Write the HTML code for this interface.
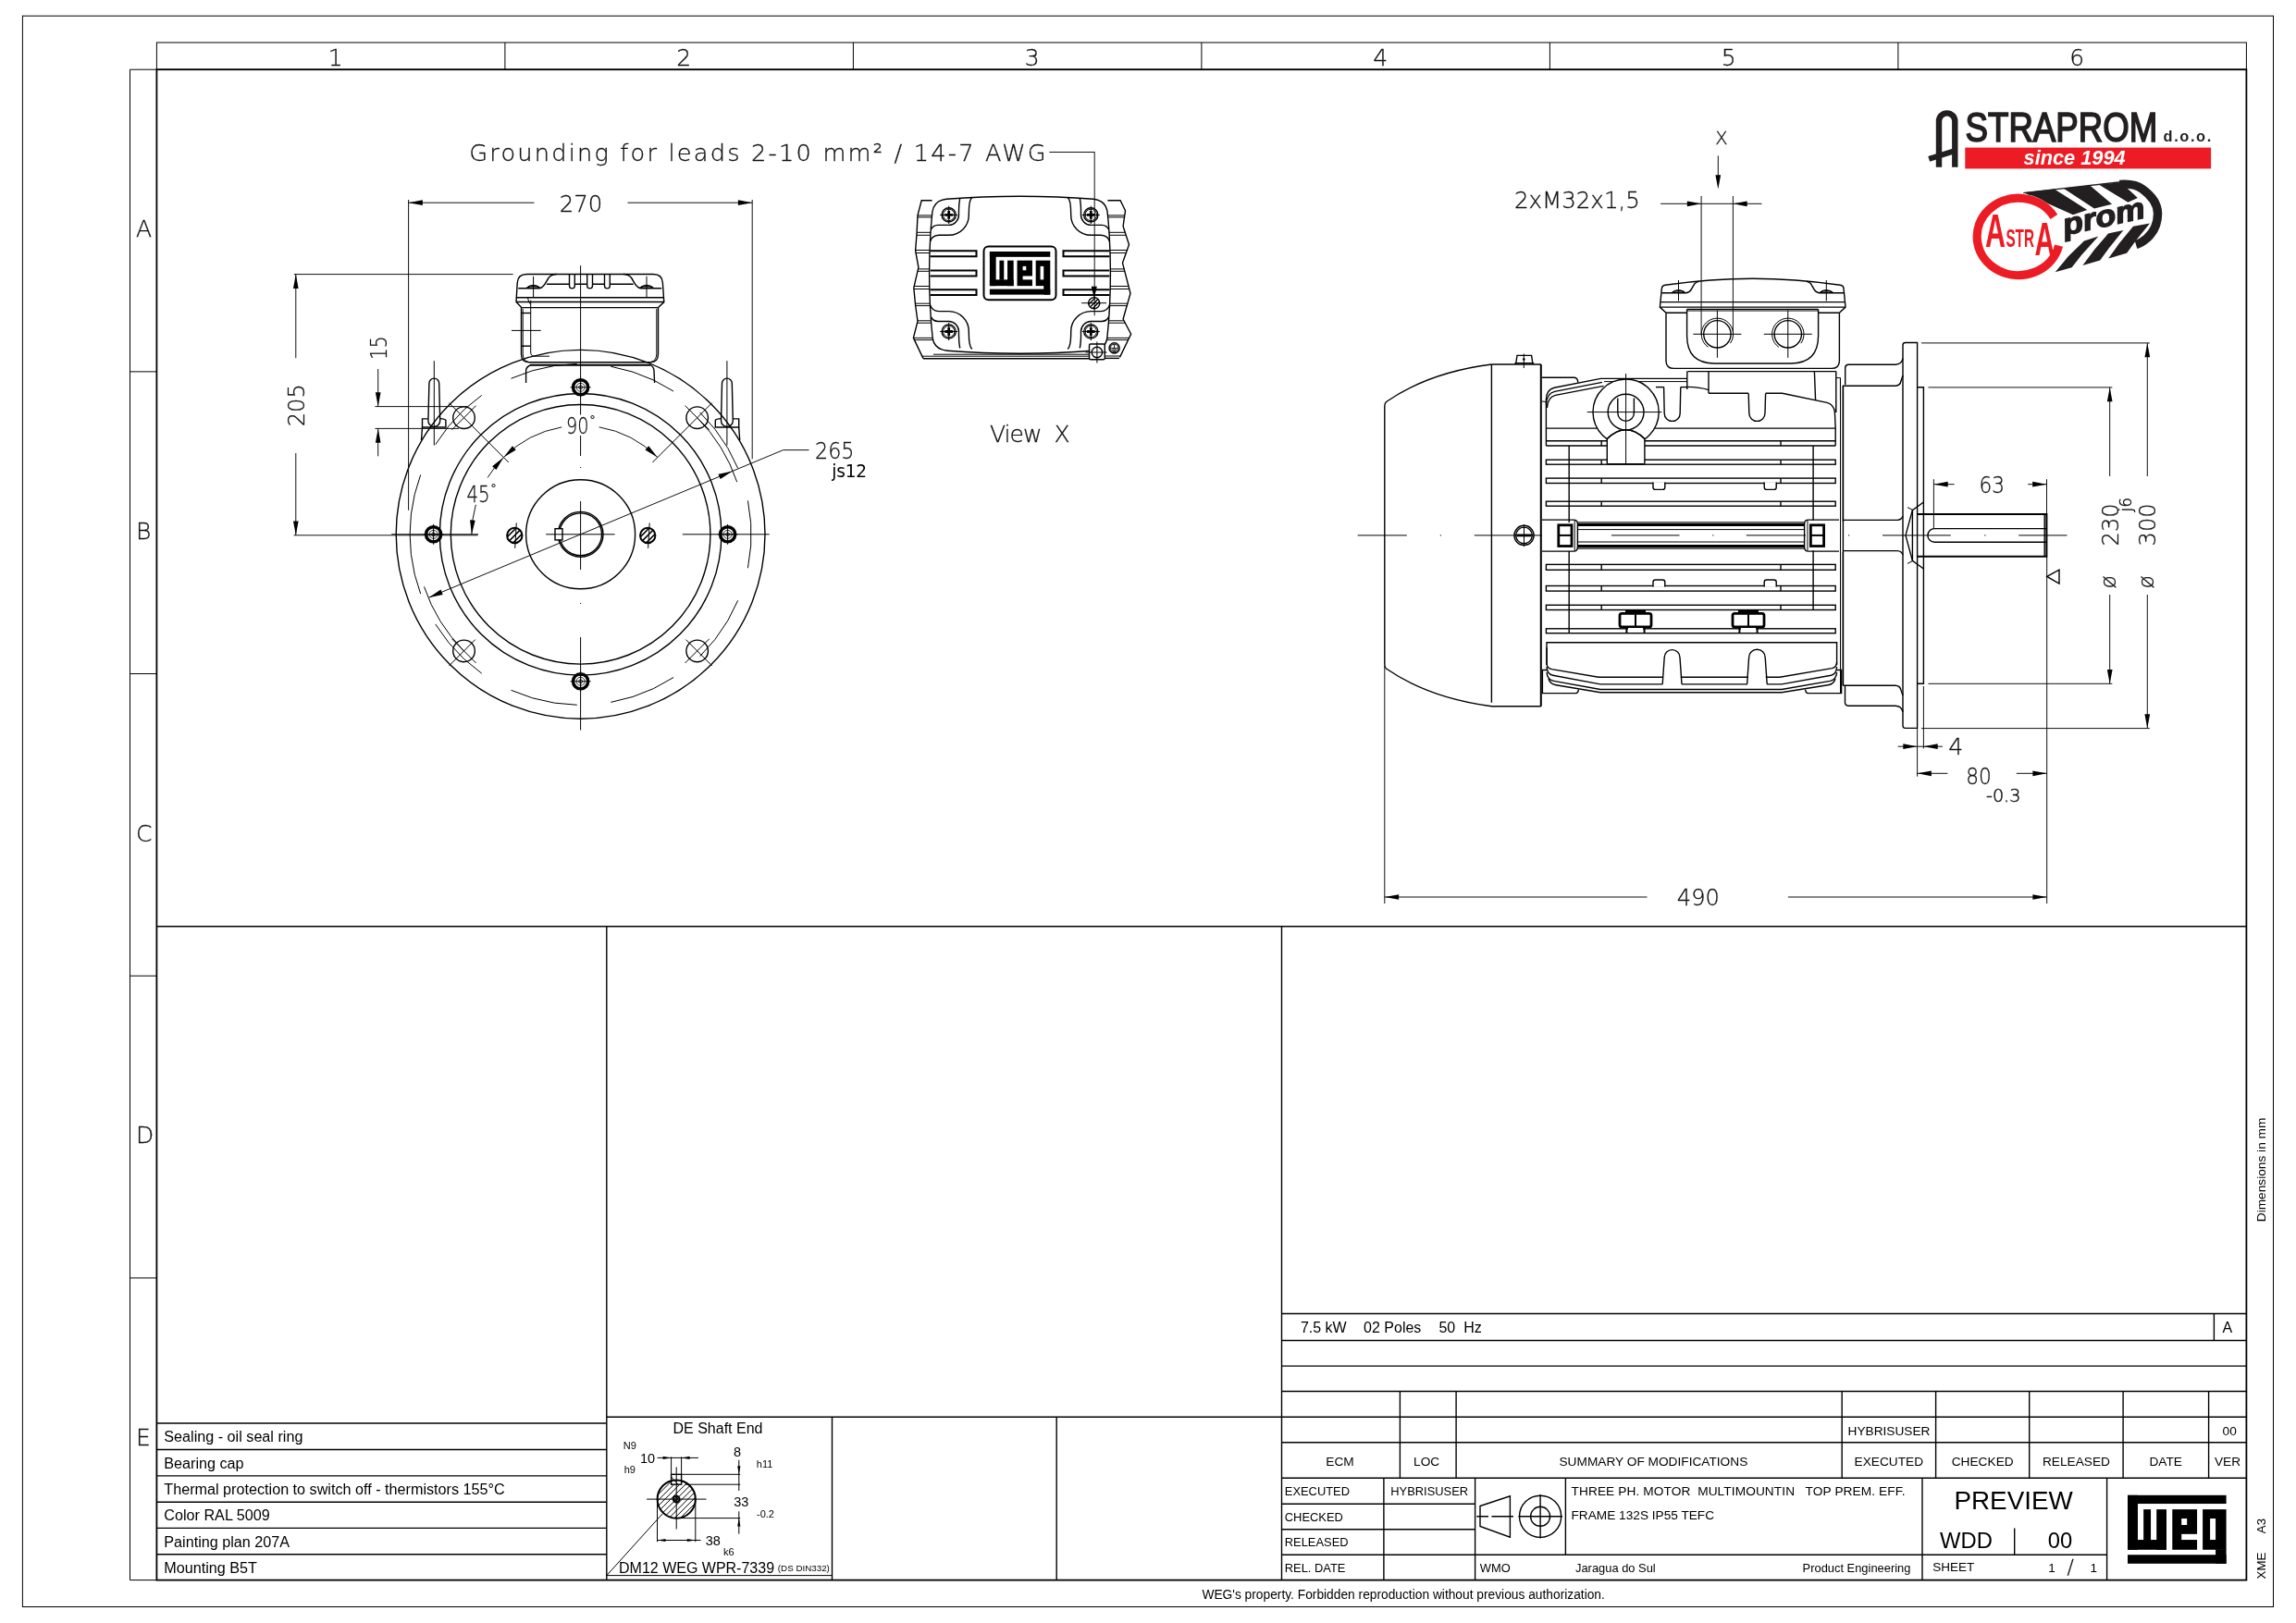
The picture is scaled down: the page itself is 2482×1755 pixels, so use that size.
<!DOCTYPE html>
<html lang="en"><head><meta charset="utf-8"><title>WEG motor dimensional drawing</title>
<style>
html,body{margin:0;padding:0;background:#fff}
svg{display:block;will-change:transform}
path,rect,circle,ellipse{fill:none;stroke:#000;stroke-width:1.4}
.t{stroke-width:1}
.d{stroke-width:1;stroke:#111}
.k{stroke-width:2}
.kk{stroke-width:2.8}
.k34{stroke-width:3.4}
.k17{stroke-width:1.8}
.t8{stroke-width:.8}
.ar{fill:#000;stroke:none}
.fb{fill:#000;stroke:none}
.fw{fill:#fff;stroke:none}
.wf{fill:#fff}
text{fill:#000;stroke:none;white-space:pre}
.a{font-family:"Liberation Sans",Arial,Helvetica,sans-serif}
.ab{font-family:"Liberation Sans",Arial,Helvetica,sans-serif;font-weight:bold}
.c{font-family:"DejaVu Sans Light","DejaVu Sans","Liberation Sans",sans-serif;font-weight:200;fill:#111;stroke:#111;stroke-width:.3}
.cm{font-family:"DejaVu Sans Light","DejaVu Sans","Liberation Sans",sans-serif;font-weight:200;fill:#111;stroke:#111;stroke-width:.5}
.cb{font-family:"DejaVu Sans","Liberation Sans",sans-serif;font-weight:400;fill:#000}
</style></head>
<body>
<svg width="2482" height="1755" viewBox="0 0 2482 1755">
<rect class="fw" x="0" y="0" width="2482" height="1755"/>
<rect class="t" x="24.4" y="17.2" width="2433.1" height="1720.3"/>
<rect class="t" x="169.4" y="46" width="2259" height="29.2"/>
<path class="t" d="M545.9 46V75.2"/>
<path class="t" d="M922.4 46V75.2"/>
<path class="t" d="M1298.9 46V75.2"/>
<path class="t" d="M1675.4 46V75.2"/>
<path class="t" d="M2051.9 46V75.2"/>
<text class="c" x="354.65" y="70.8" font-size="25">1</text>
<text class="c" x="731.15" y="70.8" font-size="25">2</text>
<text class="c" x="1107.65" y="70.8" font-size="25">3</text>
<text class="c" x="1484.15" y="70.8" font-size="25">4</text>
<text class="c" x="1860.65" y="70.8" font-size="25">5</text>
<text class="c" x="2237.15" y="70.8" font-size="25">6</text>
<path class="t" d="M169.4 75.2H140.5V1708.6H169.4"/>
<path class="t" d="M140.5 401.88H169.4"/>
<path class="t" d="M140.5 728.56H169.4"/>
<path class="t" d="M140.5 1055.24H169.4"/>
<path class="t" d="M140.5 1381.92H169.4"/>
<text class="c" x="147" y="256.34" font-size="25">A</text>
<text class="c" x="147" y="583.02" font-size="25">B</text>
<text class="c" x="147" y="909.7" font-size="25">C</text>
<text class="c" x="147" y="1236.38" font-size="25">D</text>
<text class="c" x="147" y="1563.06" font-size="25">E</text>
<rect class="k17" x="169.4" y="75.2" width="2259" height="1633.4"/>
<path class="n" d="M169.4 1001.8H2428.4"/>
<path class="n" d="M655.8 1001.8V1708.6"/>
<path class="n" d="M1385.5 1001.8V1708.6"/>
<path class="n" d="M169.4 1539H655.8"/>
<path class="n" d="M169.4 1567.5H655.8"/>
<path class="n" d="M169.4 1595.9H655.8"/>
<path class="n" d="M169.4 1624.2H655.8"/>
<path class="n" d="M169.4 1652.4H655.8"/>
<path class="n" d="M169.4 1680.7H655.8"/>
<text class="a" x="177.3" y="1559.3" font-size="16.18">Sealing - oil seal ring</text>
<text class="a" x="177.3" y="1587.6" font-size="16.18">Bearing cap</text>
<text class="a" x="177.3" y="1615.9" font-size="16.18">Thermal protection to switch off - thermistors 155°C</text>
<text class="a" x="177.3" y="1644.3" font-size="16.18">Color RAL 5009</text>
<text class="a" x="177.3" y="1672.6" font-size="16.18">Painting plan 207A</text>
<text class="a" x="177.3" y="1700.8" font-size="16.18">Mounting B5T</text>
<path class="n" d="M655.8 1532.3H1385.5"/>
<path class="n" d="M899.5 1532.3V1708.6"/>
<path class="n" d="M1142.2 1532.3V1708.6"/>
<path class="t" d="M655.8 1703.6H899.5"/>
<text class="a" x="776" y="1550" font-size="16" text-anchor="middle">DE Shaft End</text>
<text class="a" x="673.7" y="1567.4" font-size="11">N9</text>
<text class="a" x="674.7" y="1593" font-size="11">h9</text>
<text class="a" x="692" y="1582" font-size="14.5">10</text>
<text class="a" x="793" y="1575.4" font-size="14.5">8</text>
<text class="a" x="817.8" y="1586.5" font-size="11">h11</text>
<text class="a" x="793.2" y="1629" font-size="14.5">33</text>
<text class="a" x="818" y="1641" font-size="11">-0.2</text>
<text class="a" x="762.8" y="1671.2" font-size="14.5">38</text>
<text class="a" x="782" y="1681.5" font-size="11">k6</text>
<text class="a" x="669" y="1701.3" font-size="16">DM12 WEG WPR-7339</text>
<text class="a" x="840.8" y="1698.8" font-size="9.8">(DS DIN332)</text>
<clipPath id="shc"><circle cx="731.2" cy="1621.1" r="20.6"/></clipPath>
<path class="t" clip-path="url(#shc)" d="M670.2 1651.1L730.2 1591.1M676.4 1651.1L736.4 1591.1M682.6 1651.1L742.6 1591.1M688.8 1651.1L748.8 1591.1M695 1651.1L755 1591.1M701.2 1651.1L761.2 1591.1M707.4 1651.1L767.4 1591.1M713.6 1651.1L773.6 1591.1M719.8 1651.1L779.8 1591.1M726 1651.1L786 1591.1M732.2 1651.1L792.2 1591.1"/>
<rect class="wf" x="725.6" y="1594.3" width="11" height="10.9"/>
<path class="t" d="M725.6 1597L733 1605.2"/>
<circle class="k" cx="731.2" cy="1621.1" r="20.6"/>
<circle class="k" cx="731.2" cy="1621.1" r="3.4"/>
<circle class="t" cx="731.2" cy="1621.1" r="1.6"/>
<path class="t" d="M699.1 1621.1H763.5"/>
<path class="t" d="M731.2 1586.4V1653.5"/>
<path class="t" d="M725.6 1575.4V1594.3"/>
<path class="t" d="M736.6 1575.4V1594.3"/>
<path class="t" d="M710.5 1576.4H754.9"/>
<path class="ar" d="M725.6 1576.4L716.6 1578L716.6 1574.8Z"/>
<path class="ar" d="M736.6 1576.4L745.6 1574.8L745.6 1578Z"/>
<path class="t" d="M736.6 1594.3H800.2"/>
<path class="t" d="M741 1605.2H800.2"/>
<path class="t" d="M731.2 1641.6H800.2"/>
<path class="t" d="M798.8 1578.8V1612"/>
<path class="t" d="M798.8 1634.3V1658.6"/>
<path class="ar" d="M798.8 1594.3L797.2 1585.3L800.4 1585.3Z"/>
<path class="ar" d="M798.8 1641.6L800.4 1650.6L797.2 1650.6Z"/>
<path class="t" d="M710.5 1621.1V1667.2"/>
<path class="t" d="M751.8 1621.1V1667.2"/>
<path class="t" d="M710.5 1665.5H757.5"/>
<path class="ar" d="M710.5 1665.5L719.5 1663.9L719.5 1667.1Z"/>
<path class="ar" d="M751.8 1665.5L742.8 1667.1L742.8 1663.9Z"/>
<path class="t" d="M655.8 1703.6L716.5 1636.5"/>
<path class="n" d="M1385.5 1420.5H2428.4"/>
<path class="n" d="M1385.5 1449.5H2428.4"/>
<path class="n" d="M1385.5 1477.1H2428.4"/>
<path class="n" d="M1385.5 1504.5H2428.4"/>
<path class="n" d="M1385.5 1532.3H2428.4"/>
<path class="n" d="M1385.5 1559.8H2428.4"/>
<path class="n" d="M1385.5 1598.3H2428.4"/>
<path class="n" d="M2393.4 1420.5V1449.5"/>
<path class="n" d="M1513.4 1504.5V1598.3"/>
<path class="n" d="M1574.1 1504.5V1598.3"/>
<path class="n" d="M1991.2 1504.5V1598.3"/>
<path class="n" d="M2092.6 1504.5V1598.3"/>
<path class="n" d="M2193.7 1504.5V1598.3"/>
<path class="n" d="M2295.1 1504.5V1598.3"/>
<path class="n" d="M2387.6 1504.5V1598.3"/>
<text class="a" y="1441" font-size="16"><tspan x="1405.9">7.5 kW</tspan>   <tspan x="1474.1">02 Poles</tspan>   <tspan x="1555.4">50</tspan>  <tspan x="1582.2">Hz</tspan></text>
<text class="a" x="2407.8" y="1440.6" font-size="16" text-anchor="middle">A</text>
<text class="a" x="2042" y="1552" font-size="13.7" text-anchor="middle">HYBRISUSER</text>
<text class="a" x="2410.2" y="1552" font-size="13.7" text-anchor="middle">00</text>
<text class="a" x="1448.5" y="1584.8" font-size="13.7" text-anchor="middle">ECM</text>
<text class="a" x="1542.2" y="1584.8" font-size="13.7" text-anchor="middle">LOC</text>
<text class="a" x="1787.4" y="1584.8" font-size="13.7" text-anchor="middle">SUMMARY OF MODIFICATIONS</text>
<text class="a" x="2041.8" y="1584.8" font-size="13.7" text-anchor="middle">EXECUTED</text>
<text class="a" x="2143.2" y="1584.8" font-size="13.7" text-anchor="middle">CHECKED</text>
<text class="a" x="2244.4" y="1584.8" font-size="13.7" text-anchor="middle">RELEASED</text>
<text class="a" x="2341.2" y="1584.8" font-size="13.7" text-anchor="middle">DATE</text>
<text class="a" x="2408" y="1584.8" font-size="13.7" text-anchor="middle">VER</text>
<path class="n" d="M1385.5 1626.3H1594.6"/>
<path class="n" d="M1385.5 1653.7H1594.6"/>
<path class="n" d="M1385.5 1681.2H2277.6"/>
<path class="n" d="M1495.9 1598.3V1708.6"/>
<path class="n" d="M1594.6 1598.3V1708.6"/>
<path class="n" d="M1692.4 1598.3V1681.2"/>
<path class="n" d="M2078 1598.3V1708.6"/>
<path class="n" d="M2277.6 1598.3V1708.6"/>
<path class="n" d="M2177.7 1652.5V1681.2"/>
<text class="a" x="1388.8" y="1617" font-size="12.9">EXECUTED</text>
<text class="a" x="1388.8" y="1644.6" font-size="12.9">CHECKED</text>
<text class="a" x="1388.8" y="1672" font-size="12.9">RELEASED</text>
<text class="a" x="1388.8" y="1699.5" font-size="12.9">REL. DATE</text>
<text class="a" x="1545.2" y="1617" font-size="12.9" text-anchor="middle">HYBRISUSER</text>
<text class="a" x="1599.8" y="1699.5" font-size="12.9">WMO</text>
<text class="a" x="1703" y="1699.5" font-size="12.9">Jaragua do Sul</text>
<text class="a" x="2065.4" y="1699.7" font-size="12.9" text-anchor="end">Product Engineering</text>
<text class="a" x="1698.5" y="1617" font-size="13.7" textLength="361" lengthAdjust="spacing">THREE PH. MOTOR  MULTIMOUNTIN   TOP PREM. EFF.</text>
<text class="a" x="1698.5" y="1643.4" font-size="13.66">FRAME 132S IP55 TEFC</text>
<text class="a" x="2176.6" y="1631.5" font-size="27.8" text-anchor="middle">PREVIEW</text>
<text class="a" x="2125.5" y="1674" font-size="23.8" text-anchor="middle">WDD</text>
<text class="a" x="2227" y="1674" font-size="23.8" text-anchor="middle">00</text>
<text class="a" x="2089.2" y="1699" font-size="13.5">SHEET</text>
<text class="a" y="1700" font-size="13.5"><tspan x="2214.3">1</tspan> <tspan class="c" x="2234.6" y="1701.6" font-size="21.5">/</tspan> <tspan x="2259.4" y="1700">1</tspan></text>
<text class="a" x="1299.4" y="1728.8" font-size="13.77">WEG's property. Forbidden reproduction without previous authorization.</text>
<text class="a" x="2448.6" y="1321.2" font-size="13.7" transform="rotate(-90 2448.6 1321.2)">Dimensions in mm</text>
<text class="a" x="2448.6" y="1707.4" font-size="13.3" transform="rotate(-90 2448.6 1707.4)">XME</text>
<text class="a" x="2448.6" y="1658.2" font-size="13.3" transform="rotate(-90 2448.6 1658.2)">A3</text>
<path class="n" d="M1600 1628.5L1632.4 1617.8L1632.4 1662.2L1600 1650.5Z"/>
<path class="n" d="M1596.3 1639.8H1609M1612.5 1639.8H1636"/>
<circle class="n" cx="1665.1" cy="1639.8" r="22.6"/>
<circle class="n" cx="1665.1" cy="1639.8" r="10.5"/>
<path class="n" d="M1641.5 1639.8H1689"/>
<path class="n" d="M1665.1 1615.9V1663.4"/>
<rect class="fb" x="2300" y="1616.8" width="106.6" height="9.25"/>
<rect class="fb" x="2300" y="1616.8" width="10.98" height="58.98"/>
<rect class="fb" x="2300" y="1665.05" width="42" height="10.73"/>
<rect class="fb" x="2317.16" y="1632.12" width="7.89" height="33.52"/>
<rect class="fb" x="2331.23" y="1632.12" width="10.77" height="43.66"/>
<rect class="fb" x="2348.29" y="1632.12" width="26.76" height="43.66"/>
<rect class="fw" x="2358.2" y="1642.03" width="5.97" height="6.96"/>
<rect class="fw" x="2358.2" y="1658.83" width="17.48" height="6.22"/>
<rect class="fb" x="2381.12" y="1632.12" width="25.48" height="43.66"/>
<rect class="fw" x="2389.12" y="1642.03" width="5.97" height="23.01"/>
<rect class="fb" x="2395.09" y="1675.26" width="11.51" height="15.54"/>
<rect class="fb" x="2300" y="1681.25" width="106.6" height="9.55"/>
<g id="front">
<path class="t" d="M443.1 577.8L444.4 555.95L448.27 534.42L454.67 513.49"/>
<path class="t" d="M470.79 480.58L485.03 460.69L501.77 442.87L520.72 427.41"/>
<path class="t" d="M552.56 409.25L575.51 400.81L599.37 395.47L623.74 393.34"/>
<path class="t" d="M660.27 396.22L684 402.13L706.74 411.13L728.09 423.07"/>
<path class="t" d="M756.69 445.98L772.99 464.21L786.73 484.44L797.68 506.3"/>
<path class="t" d="M808.46 541.33L811.69 565.57L811.69 590.03L808.46 614.27"/>
<path class="t" d="M797.68 649.3L786.73 671.16L772.99 691.39L756.69 709.62"/>
<path class="t" d="M728.09 732.53L706.74 744.47L684 753.47L660.27 759.38"/>
<path class="t" d="M623.74 762.26L599.37 760.13L575.51 754.79L552.56 746.35"/>
<path class="t" d="M520.72 728.19L501.77 712.73L485.03 694.91L470.79 675.02"/>
<path class="t" d="M454.67 642.11L448.27 621.18L444.4 599.65L443.1 577.8"/>
<path class="n" d="M563.7 332.5L558 326.6L559.2 306Q559.6 296.5 569.5 296.5H706.2Q716 296.5 716.4 306L717.8 326.6L711.5 332.5"/>
<path class="n" d="M558.4 321.8H717.4"/>
<path class="n" d="M558 326.5H717.8"/>
<path class="n" d="M563.7 332.6H711.5"/>
<path class="n" d="M560.3 311.7H583C588 311.7 590 305 593 300.5Q596 296.5 601.6 296.5"/>
<path class="n" d="M715.2 311.7H692.7C687.6 311.7 685.6 305 682.6 300.5Q679.6 296.5 674 296.5"/>
<path class="n" d="M590.9 307.2H615.5M621.3 307.2H634.7M640.5 307.2H653.6M659.3 307.2H684.7"/>
<path class="n" d="M615.5 296.5V309A2.9 2.9 0 0 0 621.3 309V296.5"/>
<path class="n" d="M634.7 296.5V309A2.9 2.9 0 0 0 640.5 309V296.5"/>
<path class="n" d="M653.5 296.5V309A2.9 2.9 0 0 0 659.3 309V296.5"/>
<path class="n" d="M569.4 311.2Q576.6 305.6 583.8 311.2Z"/>
<path class="t" d="M571.1 309.6H582.1"/>
<path class="t" d="M576.6 298.8V321.2"/>
<path class="n" d="M691.8 311.2Q699 305.6 706.2 311.2Z"/>
<path class="t" d="M693.5 309.6H704.5"/>
<path class="t" d="M699 298.8V321.2"/>
<path class="n" d="M563.5 332.6V383Q563.5 391.7 572 391.7H703Q711.5 391.7 711.5 383V332.6"/>
<path class="t" d="M565.2 334V383Q565.6 390 571 391.4"/>
<path class="t" d="M709.8 334V383Q709.4 390 704 391.4"/>
<path class="k" d="M573 394.8H703.5"/>
<path class="t" d="M573.7 324.7V381Q573.7 385.2 578 385.2H594"/>
<path class="t" d="M570.5 322Q571.5 328 573.7 329"/>
<path class="n" d="M563.5 338.5H573.7"/>
<path class="n" d="M563.5 374.2H573.7"/>
<path class="t" d="M553 357.4H584.7"/>
<path class="n" d="M573 395Q568.6 397 568.6 401V414"/>
<path class="n" d="M703.5 395Q707 397 707 401L707.6 414"/>
<circle class="n" cx="627.6" cy="577.8" r="199.4"/>
<circle class="n" cx="627.6" cy="577.8" r="152.3"/>
<circle class="n" cx="627.6" cy="577.8" r="140.3"/>
<circle class="n" cx="627.6" cy="577.8" r="59"/>
<circle class="n" cx="627.6" cy="577.8" r="24.4"/>
<circle class="n" cx="627.6" cy="577.8" r="22.9"/>
<rect class="wf" x="600" y="571.7" width="8" height="12.2"/>
<path class="t" d="M627.6 287.1V448.5"/>
<path class="t" d="M627.6 471V493"/>
<path class="t" d="M627.6 505.1v0.9M627.6 652v0.9"/>
<path class="t" d="M627.6 542V616"/>
<path class="t" d="M627.6 689V789.5"/>
<path class="t" d="M423.2 577.8H517"/>
<path class="t" d="M590.2 577.8H664.6"/>
<path class="t" d="M737.8 577.8H831.7"/>
<circle class="n" cx="501.52" cy="451.72" r="11.8"/>
<path class="t" d="M488.44 464.8L514.6 438.64"/>
<path class="t" d="M549.82 500.02L485.47 435.67"/>
<circle class="n" cx="753.68" cy="451.72" r="11.8"/>
<path class="t" d="M740.6 438.64L766.76 464.8"/>
<path class="t" d="M705.38 500.02L769.73 435.67"/>
<circle class="n" cx="753.68" cy="703.88" r="11.8"/>
<path class="t" d="M766.76 690.8L740.6 716.96"/>
<path class="t" d="M741.44 691.64L769.73 719.93"/>
<circle class="n" cx="501.52" cy="703.88" r="11.8"/>
<path class="t" d="M514.6 716.96L488.44 690.8"/>
<path class="t" d="M513.76 691.64L485.47 719.93"/>
<circle class="k34" cx="627.6" cy="418.8" r="8.1"/>
<circle class="t8" cx="627.6" cy="418.8" r="4.5"/>
<circle class="t8" cx="627.6" cy="418.8" r="2"/>
<path class="t" d="M616.6 418.8H638.6"/>
<path class="t" d="M627.6 407.8V429.8"/>
<circle class="k34" cx="786.6" cy="577.8" r="8.1"/>
<circle class="t8" cx="786.6" cy="577.8" r="4.5"/>
<circle class="t8" cx="786.6" cy="577.8" r="2"/>
<path class="t" d="M775.6 577.8H797.6"/>
<path class="t" d="M786.6 566.8V588.8"/>
<circle class="k34" cx="627.6" cy="736.8" r="8.1"/>
<circle class="t8" cx="627.6" cy="736.8" r="4.5"/>
<circle class="t8" cx="627.6" cy="736.8" r="2"/>
<path class="t" d="M616.6 736.8H638.6"/>
<path class="t" d="M627.6 725.8V747.8"/>
<circle class="k34" cx="468.6" cy="577.8" r="8.1"/>
<circle class="t8" cx="468.6" cy="577.8" r="4.5"/>
<circle class="t8" cx="468.6" cy="577.8" r="2"/>
<path class="t" d="M457.6 577.8H479.6"/>
<path class="t" d="M468.6 566.8V588.8"/>
<clipPath id="ss556"><circle cx="556.3" cy="579" r="8"/></clipPath>
<path clip-path="url(#ss556)" d="M543.1 585.8L563.1 565.8M546.3 589L566.3 569M549.5 592.2L569.5 572.2" style="stroke-width:1.6"/>
<circle class="k" cx="556.3" cy="579" r="8.2"/>
<path class="t" d="M558.3 565.5L556.7 592.8"/>
<clipPath id="ss700"><circle cx="700.2" cy="579" r="8"/></clipPath>
<path clip-path="url(#ss700)" d="M687 585.8L707 565.8M690.2 589L710.2 569M693.4 592.2L713.4 572.2" style="stroke-width:1.6"/>
<circle class="k" cx="700.2" cy="579" r="8.2"/>
<path class="t" d="M702.2 565.5L700.6 592.8"/>
<path class="t" d="M469.3 390.2V481.5"/>
<path class="n" d="M475.7 455L474.7 414.5A5.4 5.4 0 0 0 463.9 414.5L462.9 455A6.4 6.4 0 0 0 475.7 455"/>
<path class="n" d="M462.7 452.9H456.5V462H481.9V454.4Q480.9 452.8 475.9 452.6"/>
<path class="n" d="M456.5 462L455.5 476"/>
<path class="t" d="M785.9 390.2V481.5"/>
<path class="n" d="M779.5 455L780.5 414.5A5.4 5.4 0 0 1 791.3 414.5L792.3 455A6.4 6.4 0 0 1 779.5 455"/>
<path class="n" d="M792.5 452.9H798.7V462H773.3V454.4Q774.3 452.8 779.3 452.6"/>
<path class="n" d="M798.7 462L799.7 476"/>
<path class="d" d="M441.6 216V551.8"/>
<path class="d" d="M813.2 216V496.3"/>
<path class="d" d="M441.6 219.2H577.5"/>
<path class="d" d="M678.5 219.2H813.2"/>
<path class="ar" d="M441.6 219.2L456.9 216.35L456.9 222.05Z"/>
<path class="ar" d="M813.2 219.2L797.9 222.05L797.9 216.35Z"/>
<text class="c" x="628" y="228.6" font-size="25" text-anchor="middle" textLength="46.5" lengthAdjust="spacingAndGlyphs">270</text>
<path class="d" d="M317.8 296.6H554.6"/>
<path class="d" d="M317.6 578.8H516.6"/>
<path class="d" d="M319.8 296.6V387.2"/>
<path class="d" d="M319.8 490V578.8"/>
<path class="ar" d="M319.8 296.6L322.65 311.9L316.95 311.9Z"/>
<path class="ar" d="M319.8 578.8L316.95 563.5L322.65 563.5Z"/>
<text class="c" x="329.2" y="438.2" font-size="25" text-anchor="middle" textLength="46" lengthAdjust="spacingAndGlyphs" transform="rotate(-90 329.2 438.2)">205</text>
<path class="d" d="M405.4 439.6H505.8"/>
<path class="d" d="M405.4 463.4H495.9"/>
<path class="d" d="M408.7 399V439.6"/>
<path class="d" d="M408.7 463.4V493.3"/>
<path class="ar" d="M408.7 439.6L405.85 424.3L411.55 424.3Z"/>
<path class="ar" d="M408.7 463.4L411.55 478.7L405.85 478.7Z"/>
<text class="c" x="418" y="376.3" font-size="25" text-anchor="middle" textLength="25.5" lengthAdjust="spacingAndGlyphs" transform="rotate(-90 418 376.3)">15</text>
<path class="d" d="M544.37 494.57A117.7 117.7 0 0 1 607.16 461.89"/>
<path class="d" d="M647.63 461.82A117.7 117.7 0 0 1 710.83 494.57"/>
<path class="ar" d="M544.37 494.57L553.97 482.32L557.73 486.59Z"/>
<path class="ar" d="M710.83 494.57L697.47 486.59L701.23 482.32Z"/>
<text class="c" x="612" y="468.5" font-size="25" textLength="24.5" lengthAdjust="spacingAndGlyphs">90</text>
<text class="c" x="637" y="459" font-size="14">°</text>
<path class="d" d="M527.14 516.48A117.7 117.7 0 0 1 544.37 494.57"/>
<path class="d" d="M509.9 577.8A117.7 117.7 0 0 1 514.35 545.75"/>
<path class="ar" d="M544.37 494.57L536.39 507.93L532.12 504.17Z"/>
<path class="ar" d="M509.9 577.8L508.02 562.35L513.71 562.71Z"/>
<text class="c" x="504.4" y="542.6" font-size="25" textLength="25" lengthAdjust="spacingAndGlyphs">45</text>
<text class="c" x="530" y="533" font-size="14">°</text>
<path class="t" d="M753.68 451.72A178.3 178.3 0 0 1 796.69 521.22"/>
<path class="t" d="M501.52 703.88A178.3 178.3 0 0 1 458.51 634.38"/>
<path class="d" d="M463.45 646.13L846.6 486.64"/>
<path class="d" d="M846.6 486.64H874.5"/>
<path class="ar" d="M463.45 646.13L476.48 637.62L478.67 642.88Z"/>
<path class="ar" d="M791.75 509.47L778.72 517.98L776.53 512.72Z"/>
<text class="c" x="881" y="495.8" font-size="25.6" textLength="42.4" lengthAdjust="spacingAndGlyphs">265</text>
<text class="cb" x="899.2" y="515.8" font-size="18.6" textLength="38" lengthAdjust="spacing">js12</text>
<text class="c" x="507.2" y="174.2" font-size="25.6" textLength="623.5" lengthAdjust="spacing">Grounding for leads 2-10 mm² / 14-7 AWG</text>
</g>
<g id="viewx">
<path class="n" d="M1007.6 216.7L996.2 216.7L992 232.9L991 253.1L989.6 271.1L992.9 289.1L987.8 311.3L989.6 330L992 347.4L987.4 365.4L998 387.6"/>
<path class="n" d="M1197.4 216.7L1211.1 216.7L1216.5 227.8L1214.1 244.7L1220.5 264.5L1213.5 284.3L1222 317.3L1214.1 345L1222.6 361.2L1210.5 386.4"/>
<path class="t" d="M992 232.9H1007.45"/>
<path class="t" d="M1215.78 232.9H1197.55"/>
<path class="t" d="M991.9 234.9H1007.29"/>
<path class="t" d="M1215.49 234.9H1197.71"/>
<path class="t" d="M991.09 251.3H1006.18"/>
<path class="t" d="M1216.23 251.3H1198.82"/>
<path class="t" d="M990.91 254.3H1006.01"/>
<path class="t" d="M1217.2 254.3H1198.99"/>
<path class="t" d="M989.65 270.5H1005.32"/>
<path class="t" d="M1218.38 270.5H1199.68"/>
<path class="t" d="M990.04 273.5H1005.22"/>
<path class="t" d="M1217.32 273.5H1199.78"/>
<path class="t" d="M992.49 290.9H1004.92"/>
<path class="t" d="M1215.2 290.9H1200.08"/>
<path class="t" d="M991.94 293.3H1004.9"/>
<path class="t" d="M1215.82 293.3H1200.1"/>
<path class="t" d="M988.21 309.5H1005.02"/>
<path class="t" d="M1219.99 309.5H1199.98"/>
<path class="t" d="M987.92 312.5H1005.07"/>
<path class="t" d="M1220.76 312.5H1199.93"/>
<path class="t" d="M989.43 328.2H1005.56"/>
<path class="t" d="M1218.89 328.2H1199.44"/>
<path class="t" d="M989.68 330.6H1005.67"/>
<path class="t" d="M1218.21 330.6H1199.33"/>
<path class="t" d="M991.92 346.8H1006.55"/>
<path class="t" d="M1215.04 346.8H1198.45"/>
<path class="t" d="M991.54 349.2H1006.71"/>
<path class="t" d="M1216.3 349.2H1198.29"/>
<path class="t" d="M987.4 365.4H1007.98"/>
<path class="t" d="M1220.58 365.4H1197.02"/>
<path class="t" d="M988.45 367.6H1008.18"/>
<path class="t" d="M1219.53 367.6H1196.82"/>
<path class="t" d="M997 385.2H1178"/>
<path class="n" d="M998 387.8H1178"/>
<path class="t" d="M1009 383.2H1178"/>
<path class="n" d="M1194.3 387.4H1210"/>
<path class="t" d="M1194.3 385H1211"/>
<path class="n" d="M1023.3 215.2Q1062 212.2 1102.5 212.2Q1143 212.2 1181.7 215.2Q1195 216.6 1197.1 229Q1200.4 260 1200.4 296Q1200.4 332 1196.8 366Q1194.5 378 1181 379.2Q1143 382.2 1102.5 382.2Q1062 382.2 1024 379.2Q1010.5 378 1008.2 366Q1004.6 332 1004.6 296Q1004.6 260 1007.9 229Q1010 216.6 1023.3 215.2Z"/>
<path class="n" d="M1037.7 214.4Q1036.2 222 1036.5 232.6A11 11 0 0 1 1025.7 243.4H1014Q1008.5 243.6 1006.6 248"/>
<path class="n" d="M1050.9 213.4Q1047.2 216 1047.3 232.6A21.6 21.6 0 0 1 1025.7 254.3H1015Q1007.5 254.6 1005.6 261"/>
<circle class="n" cx="1025.7" cy="232.4" r="7.6"/>
<circle class="t" cx="1025.7" cy="232.4" r="6.2"/>
<path class="t" d="M1016.1 232.4H1035.3"/>
<path class="t" d="M1025.7 222.8V242"/>
<path class="kk" d="M1021.3 232.4H1030.1M1025.7 228V236.8"/>
<path class="n" d="M1167.3 214.4Q1168.8 222 1168.5 232.6A11 11 0 0 0 1179.3 243.4H1191Q1196.5 243.6 1198.4 248"/>
<path class="n" d="M1154.1 213.4Q1157.8 216 1157.7 232.6A21.6 21.6 0 0 0 1179.3 254.3H1190Q1197.5 254.6 1199.4 261"/>
<circle class="n" cx="1179.3" cy="232.4" r="7.6"/>
<circle class="t" cx="1179.3" cy="232.4" r="6.2"/>
<path class="t" d="M1169.7 232.4H1188.9"/>
<path class="t" d="M1179.3 222.8V242"/>
<path class="kk" d="M1174.9 232.4H1183.7M1179.3 228V236.8"/>
<path class="n" d="M1037.7 376.5Q1036.2 368.9 1036.5 358.3A11 11 0 0 0 1025.7 347.5H1014Q1008.5 347.3 1006.6 342.9"/>
<path class="n" d="M1050.9 377.5Q1047.2 374.9 1047.3 358.3A21.6 21.6 0 0 0 1025.7 336.6H1015Q1007.5 336.3 1005.6 329.9"/>
<circle class="n" cx="1025.7" cy="358.5" r="7.6"/>
<circle class="t" cx="1025.7" cy="358.5" r="6.2"/>
<path class="t" d="M1016.1 358.5H1035.3"/>
<path class="t" d="M1025.7 348.9V368.1"/>
<path class="kk" d="M1021.3 358.5H1030.1M1025.7 354.1V362.9"/>
<path class="n" d="M1167.3 376.5Q1168.8 368.9 1168.5 358.3A11 11 0 0 1 1179.3 347.5H1191Q1196.5 347.3 1198.4 342.9"/>
<path class="n" d="M1154.1 377.5Q1157.8 374.9 1157.7 358.3A21.6 21.6 0 0 1 1179.3 336.6H1190Q1197.5 336.3 1199.4 329.9"/>
<circle class="n" cx="1179.3" cy="358.5" r="7.6"/>
<circle class="t" cx="1179.3" cy="358.5" r="6.2"/>
<path class="t" d="M1169.7 358.5H1188.9"/>
<path class="t" d="M1179.3 348.9V368.1"/>
<path class="kk" d="M1174.9 358.5H1183.7M1179.3 354.1V362.9"/>
<path class="k" d="M1005.6 271.3H1055.5V277.3H1005.6"/>
<path class="k" d="M1199.4 271.3H1149.5V277.3H1199.4"/>
<path class="k" d="M1005.6 292.5H1055.5V298.4H1005.6"/>
<path class="k" d="M1199.4 292.5H1149.5V298.4H1199.4"/>
<path class="k" d="M1005.6 313.2H1055.5V319.1H1005.6"/>
<path class="k" d="M1199.4 313.2H1149.5V319.1H1199.4"/>
<rect class="k" x="1063.5" y="266.4" width="78" height="57.8" rx="5"/>
<rect class="fb" x="1069.9" y="272" width="65.4" height="5.83"/>
<rect class="fb" x="1069.9" y="272" width="6.74" height="37.14"/>
<rect class="fb" x="1069.9" y="302.38" width="25.77" height="6.76"/>
<rect class="fb" x="1080.43" y="281.65" width="4.84" height="21.11"/>
<rect class="fb" x="1089.06" y="281.65" width="6.61" height="27.49"/>
<rect class="fb" x="1099.53" y="281.65" width="16.42" height="27.49"/>
<rect class="fw" x="1105.61" y="287.89" width="3.66" height="4.38"/>
<rect class="fw" x="1105.61" y="298.47" width="10.73" height="3.91"/>
<rect class="fb" x="1119.67" y="281.65" width="15.63" height="27.49"/>
<rect class="fw" x="1124.57" y="287.89" width="3.66" height="14.49"/>
<rect class="fb" x="1128.24" y="308.81" width="7.06" height="9.79"/>
<rect class="fb" x="1069.9" y="312.59" width="65.4" height="6.01"/>
<path class="d" d="M1134.4 164.5H1183.4"/>
<path class="d" d="M1183.2 164.5V341.3"/>
<path class="ar" d="M1182.8 322.2L1179.7 309.8L1185.9 309.8Z"/>
<clipPath id="gsc"><circle cx="1182.7" cy="327.7" r="6"/></clipPath>
<path class="n" d="M1176.7 333.7L1188.7 321.7M1174.5 331.5L1186.5 319.5M1178.9 335.9L1190.9 323.9" clip-path="url(#gsc)"/>
<circle class="n" cx="1182.7" cy="327.7" r="6.1"/>
<path class="t" d="M1169.2 327.7H1196"/>
<rect class="wf" x="1177.5" y="372" width="16.8" height="16.8" rx="1.5"/>
<circle class="n" cx="1185.9" cy="381" r="5.7"/>
<path class="t" d="M1173.5 381H1196.6"/>
<path class="t" d="M1185.9 369.5V392.5"/>
<circle class="n" cx="1204.6" cy="376.4" r="5.6"/>
<circle class="t" cx="1204.6" cy="376.4" r="4.2"/>
<path class="t" d="M1204.6 372.6V376.6M1201.2 376.6H1208M1202.2 378.2H1207M1203.4 379.8H1205.8"/>
<text class="c" x="1070" y="477.7" font-size="25" textLength="86.6" lengthAdjust="spacing">View  X</text>
</g>
<g id="side">
<path class="n" d="M1612.4 394Q1545 402.5 1498.5 434.5Q1496.8 436 1496.8 439V718.5Q1496.8 721.5 1498.5 723Q1545 755 1612.4 763.7H1665.8"/>
<path class="n" d="M1612.4 394H1665.8"/>
<path class="n" d="M1612.4 394V759.8"/>
<path class="k" d="M1665.8 394V763.7"/>
<path class="n" d="M1638.6 394L1640 384.4H1655.6L1657 394M1637.4 392.6H1658.2"/>
<path class="t" d="M1647.3 382.5V398"/>
<path class="k" d="M1646 388.5h2.6"/>
<circle class="n" cx="1647.5" cy="578.9" r="10.6"/>
<circle class="n" cx="1647.5" cy="578.9" r="8.8"/>
<path class="kk" d="M1639.6 578.9H1655.6"/>
<path class="t" d="M1647.5 567V591.2"/>
<path class="n" d="M1671.4 476.7H1984.2M1671.4 482H1984.2"/>
<path class="n" d="M1671.4 463V482"/>
<path class="n" d="M1984.2 463V482"/>
<path class="n" d="M1731.2 476.7V482"/>
<path class="n" d="M1925 476.7V482"/>
<rect class="n" x="1671.4" y="497.2" width="312.8" height="5"/>
<path class="n" d="M1731.2 497.2V502.2"/>
<path class="n" d="M1925 497.2V502.2"/>
<rect class="n" x="1671.4" y="517.1" width="312.8" height="5.4"/>
<path class="n" d="M1731.2 517.1V522.5"/>
<path class="n" d="M1925 517.1V522.5"/>
<rect class="n" x="1671.4" y="542.2" width="312.8" height="5"/>
<path class="n" d="M1731.2 542.2V547.2"/>
<path class="n" d="M1925 542.2V547.2"/>
<rect class="n" x="1671.4" y="610.4" width="312.8" height="5.9"/>
<path class="n" d="M1731.2 610.4V616.3"/>
<path class="n" d="M1925 610.4V616.3"/>
<rect class="n" x="1671.4" y="633.5" width="312.8" height="5.6"/>
<path class="n" d="M1731.2 633.5V639.1"/>
<path class="n" d="M1925 633.5V639.1"/>
<rect class="n" x="1671.4" y="654.3" width="312.8" height="5.2"/>
<path class="n" d="M1731.2 654.3V659.5"/>
<path class="n" d="M1925 654.3V659.5"/>
<rect class="n" x="1671.4" y="679.8" width="312.8" height="4.9"/>
<path class="n" d="M1671.4 463.1H1984.2"/>
<path class="n" d="M1696.2 482V565"/>
<path class="n" d="M1696.2 596V684.7"/>
<path class="n" d="M1960.1 482V562.8"/>
<path class="n" d="M1960.1 595.3V659.5"/>
<path class="wf" d="M1787 521.6V527Q1787 529.4 1789.4 529.4H1797.4Q1799.8 529.4 1799.8 527V521.6"/>
<path class="wf" d="M1787 634.4V629.4Q1787 627 1789.4 627H1797.4Q1799.8 627 1799.8 629.4V634.4"/>
<path class="wf" d="M1907.2 521.6V527Q1907.2 529.4 1909.6 529.4H1917.8Q1920.2 529.4 1920.2 527V521.6"/>
<path class="wf" d="M1907.2 634.4V629.4Q1907.2 627 1909.6 627H1917.8Q1920.2 627 1920.2 629.4V634.4"/>
<path class="n" d="M1667 562.1H1701Q1705.4 562.1 1705.4 566.5V591.7Q1705.4 596.1 1701 596.1H1667"/>
<rect class="kk" x="1684.8" y="567.8" width="14.2" height="22.7"/>
<path class="k" d="M1684.8 578.9H1699"/>
<path class="t" d="M1702.2 563V595.4"/>
<path class="k34" d="M1705.4 567.4H1950M1705.4 590.6H1950"/>
<path class="t" d="M1705.4 572.6H1950M1705.4 586H1950"/>
<path class="t" d="M1705.4 564.8H1950M1705.4 593.2H1950"/>
<path class="n" d="M1988 562.1H1955Q1950.6 562.1 1950.6 566.5V591.7Q1950.6 596.1 1955 596.1H1988"/>
<rect class="kk" x="1957.4" y="567.8" width="14.2" height="22.7"/>
<path class="k" d="M1957.4 578.9H1971.6"/>
<path class="t" d="M1954 563V595.4"/>
<path class="n" d="M1667 408.3H1702Q1705.6 408.6 1705.8 413.6"/>
<path class="n" d="M1671.4 463V432Q1671.6 421.5 1680 419.2L1730.4 409.4H1823.6"/>
<path class="n" d="M1671.4 437Q1672 425.6 1680.6 423.4L1732 413.4"/>
<path class="n" d="M1672.4 441Q1673 429.6 1681.4 427.4L1733.5 417.4"/>
<path class="t" d="M1671.4 434.5L1667 434"/>
<path class="t" d="M1734 412.6H1823.6"/>
<path class="n" d="M1790 418.6H1798.6"/>
<circle class="wf" cx="1757.6" cy="445.6" r="35.6"/>
<circle class="n" cx="1757.6" cy="445.6" r="19.4"/>
<path class="n" d="M1748.8 430.4V446.6A8.8 8.8 0 0 0 1766.4 446.6V430.4"/>
<path class="wf" d="M1737.3 501.6V474.4Q1757.6 455 1777.9 474.4V501.6"/>
<path class="n" d="M1737.3 474.4Q1757.6 455 1777.9 474.4"/>
<path class="n" d="M1737.3 501.6H1777.9"/>
<path class="t" d="M1757.6 404V501.6"/>
<path class="t" d="M1715.7 445.6H1796.4"/>
<path class="n" d="M1798.6 418.6L1799.2 446.9A8.5 8.5 0 0 0 1816.2 446.9L1816.8 418.6"/>
<path class="n" d="M1890.2 425.4L1890.8 446.8A8.6 8.6 0 0 0 1908 446.8L1908.6 425.4"/>
<path class="n" d="M1816.8 418.6H1823.8"/>
<path class="n" d="M1823.8 421V401.6M1824.5 401.6H1984.8"/>
<path class="n" d="M1847 401.6V425.2"/>
<path class="n" d="M1823.8 418.4Q1838 418.6 1847 421.6"/>
<path class="n" d="M1847 425.3H1890.2M1908.6 425.3H1926.6L1975 435.4Q1982.4 437.4 1983.4 445.5L1984.2 463"/>
<path class="n" d="M1961.4 401.6L1962.6 432.8"/>
<path class="n" d="M1984.8 401.6V446"/>
<path class="t" d="M1984.8 408.6H1989.4V432"/>
<path class="n" d="M1801 338.2L1794.4 332.1L1796.4 311.6Q1796.8 308.6 1800 308.2Q1850 301.2 1894.6 301.2Q1940 301.2 1989.4 308.2Q1992.6 308.6 1993 311.6L1995 332.1L1988.4 338.2"/>
<path class="n" d="M1794.9 326.6H1994.5"/>
<path class="n" d="M1794.4 332.1H1995"/>
<path class="n" d="M1796.4 316.7H1822.6Q1826.6 316.4 1828.6 312.4L1832 306.6Q1833.6 304.6 1836.6 304.2"/>
<path class="n" d="M1993 316.7H1966.8Q1962.8 316.4 1960.8 312.4L1957.4 306.6Q1955.8 304.6 1952.8 304.2"/>
<path class="n" d="M1807.5 316.2Q1814.5 311 1821.5 316.2Z"/>
<path class="t" d="M1809.5 314.6H1819.5"/>
<path class="t" d="M1814.5 303V325.4"/>
<path class="n" d="M1967.3 316.2Q1974.3 311 1981.3 316.2Z"/>
<path class="t" d="M1969.3 314.6H1979.3"/>
<path class="t" d="M1974.3 303V325.4"/>
<path class="n" d="M1801 338.2V390.6Q1801.4 398.4 1809.4 398.4H1980Q1988 398.4 1988.4 390.6V338.2"/>
<path class="n" d="M1823.6 334.6V363Q1823.6 393 1853.6 393H1935.6Q1965.6 393 1965.6 363V334.6"/>
<path class="n" d="M1801 338.2H1823.6M1965.6 338.2H1988.4"/>
<path class="n" d="M1823.6 334.4H1965.6"/>
<path class="t" d="M1823.6 336H1965.6"/>
<circle class="n" cx="1856.4" cy="361.3" r="14.7"/>
<path class="t" d="M1846.53 375.39A17.2 17.2 0 1 1 1870.49 371.17"/>
<path class="t" d="M1830.4 361.3H1882.4"/>
<path class="t" d="M1856.4 335.6V386.8"/>
<circle class="n" cx="1932.8" cy="361.3" r="14.7"/>
<path class="t" d="M1922.93 375.39A17.2 17.2 0 1 1 1946.89 371.17"/>
<path class="t" d="M1906.8 361.3H1958.8"/>
<path class="t" d="M1932.8 335.6V386.8"/>
<path class="n" d="M1672 719V694.8H1985.6V719"/>
<path class="n" d="M1672 700V718Q1672.4 722.6 1677.4 723.6L1728 732.3H1797"/>
<path class="n" d="M1797.2 739.8L1799.2 711A8.4 8.4 0 0 1 1816 711L1818 739.8"/>
<path class="n" d="M1888.6 739.8L1890.6 711A8.4 8.4 0 0 1 1908.2 711L1910.2 739.8"/>
<path class="n" d="M1816.8 732.3H1890M1908.8 732.3H1924L1980.4 722.6Q1985.4 721.6 1985.6 716"/>
<path class="n" d="M1672 721Q1672.4 729 1678.6 730.2L1730 739.9H1797.4M1817.8 739.9H1889M1910 739.9H1926L1979.4 730.2Q1985.2 729 1985.6 721"/>
<path class="n" d="M1672 727Q1672.6 735 1679.6 736.4L1730 745.5H1926L1978.4 736.4Q1985 735 1985.6 727"/>
<path class="n" d="M1674 734Q1675.6 739.6 1682 740.8L1730 748.8H1926L1976 740.8Q1982.6 739.6 1984 734"/>
<path class="n" d="M1672 724.5H1667.4V749.6H1703.6Q1706 749.4 1706.4 745.6"/>
<path class="n" d="M1985.6 724.5H1990.6V749.6H1954.4Q1952 749.4 1951.6 745.6"/>
<rect class="kk" x="1751" y="663.4" width="34" height="14.6" rx="2.2"/>
<path class="k" d="M1768 663.4V678"/>
<path class="kk" d="M1757 661H1779"/>
<path class="k" d="M1758.4 678V684.7M1777.6 678V684.7"/>
<rect class="fw" x="1760" y="679" width="16" height="4.6"/>
<rect class="kk" x="1873" y="663.4" width="34" height="14.6" rx="2.2"/>
<path class="k" d="M1890 663.4V678"/>
<path class="kk" d="M1879 661H1901"/>
<path class="k" d="M1880.4 678V684.7M1899.6 678V684.7"/>
<rect class="fw" x="1882" y="679" width="16" height="4.6"/>
<path class="t" d="M1989.5 408.6V749.6"/>
<path class="n" d="M1992.4 563.9V417.2H2049Q2054 417 2055 412L2057 406"/>
<path class="n" d="M1992.4 741.2V596.9"/>
<path class="n" d="M1992.4 417.2V741.2"/>
<path class="n" d="M1994.7 416V397.6Q1994.9 394.4 1998 394.2H2049Q2055.6 394 2057 387.6"/>
<path class="n" d="M1992.4 741.2H2049Q2054 741.4 2055 746.4L2057 752"/>
<path class="n" d="M1994.5 741.2V760Q1994.7 763 1998 763.2H2049Q2055.6 763.4 2057 769.8"/>
<path class="n" d="M1992.4 562.4H2051Q2055.6 562.2 2057 558M1992.4 595.6H2051Q2055.6 595.8 2057 600"/>
<path class="n" d="M2057 373Q2057.2 370.6 2059.6 370.5H2072.6V787.4H2059.6Q2057.2 787.2 2057 785Z"/>
<path class="n" d="M2072.6 418.8H2079.4V739.2H2072.6"/>
<path class="n" d="M2060 578.9L2067.4 551.6L2079.4 543M2060 578.9L2067.4 606.4L2079.4 615"/>
<path class="n" d="M2067.4 551.6V606.4"/>
<path class="t" d="M2062 548.6L2068 551.6M2062 609.4L2068 606.4"/>
<path class="k" d="M2072.6 556H2212.4V601.8H2072.6"/>
<path class="n" d="M2210.2 556V601.8"/>
<path class="n" d="M2212.4 571.6H2091.2A7.3 7.3 0 0 0 2091.2 586.2H2212.4"/>
<path class="t" d="M1467.7 578.9H1520.8M1556.8 578.9h1.2M1593.8 578.9H1667M1742 578.9H1815.5M1851.2 578.9h1.2M1887.8 578.9H1952M1998 578.9h1.2M2035 578.9H2108.8M2145.2 578.9h1.2M2182.2 578.9H2234.5"/>
<path class="d" d="M1839.1 212V361"/>
<path class="d" d="M1873.4 212V361"/>
<path class="d" d="M1795.1 220.3H1904.5"/>
<path class="ar" d="M1839.1 220.3L1823.8 223.15L1823.8 217.45Z"/>
<path class="ar" d="M1873.4 220.3L1888.7 217.45L1888.7 223.15Z"/>
<text class="c" x="1636.9" y="225" font-size="25" textLength="136" lengthAdjust="spacingAndGlyphs">2xM32x1,5</text>
<text class="c" x="1854.2" y="155.6" font-size="19.5">X</text>
<path class="d" d="M1857.3 168.4V192"/>
<path class="ar" d="M1857.3 204.6L1854.45 189.3L1860.15 189.3Z"/>
<path class="d" d="M2090.4 518.2V571.6"/>
<path class="d" d="M2212.5 518.2V556"/>
<path class="d" d="M2090.4 523.7H2112.6"/>
<path class="d" d="M2192.2 523.7H2212.5"/>
<path class="ar" d="M2090.4 523.7L2105.7 520.85L2105.7 526.55Z"/>
<path class="ar" d="M2212.5 523.7L2197.2 526.55L2197.2 520.85Z"/>
<text class="c" x="2139.4" y="532.5" font-size="25" textLength="27.5" lengthAdjust="spacingAndGlyphs">63</text>
<path class="d" d="M2077 370.9H2323.8"/>
<path class="d" d="M2077 787.6H2323.8"/>
<path class="d" d="M2321.3 370.9V515"/>
<path class="d" d="M2321.3 643V787.6"/>
<path class="ar" d="M2321.3 370.9L2324.15 386.2L2318.45 386.2Z"/>
<path class="ar" d="M2321.3 787.6L2318.45 772.3L2324.15 772.3Z"/>
<path class="d" d="M2084.5 418.9H2283.4"/>
<path class="d" d="M2084.5 739.3H2283.4"/>
<path class="d" d="M2280.7 418.9V515"/>
<path class="d" d="M2280.7 643V739.3"/>
<path class="ar" d="M2280.7 418.9L2283.55 434.2L2277.85 434.2Z"/>
<path class="ar" d="M2280.7 739.3L2277.85 724L2283.55 724Z"/>
<text class="c" x="2289.6" y="590.4" font-size="25" textLength="46" lengthAdjust="spacingAndGlyphs" transform="rotate(-90 2289.6 590.4)">230</text>
<text class="c" x="2286.8" y="636.4" font-size="23.4" transform="rotate(-90 2286.8 636.4)">ø</text>
<text class="cm" x="2304.4" y="553.4" font-size="17" transform="rotate(-90 2304.4 553.4)">j6</text>
<text class="c" x="2330.4" y="590.4" font-size="25" textLength="46" lengthAdjust="spacingAndGlyphs" transform="rotate(-90 2330.4 590.4)">300</text>
<text class="c" x="2327.6" y="636.4" font-size="23.4" transform="rotate(-90 2327.6 636.4)">ø</text>
<path class="n" d="M2212.8 623.4L2226 616.2L2226 631Z"/>
<path class="d" d="M2072.6 787.4V839.7"/>
<path class="d" d="M2079.4 742V809.4"/>
<path class="d" d="M2051.7 807.2H2099.9"/>
<path class="ar" d="M2072.6 807.2L2057.3 810.05L2057.3 804.35Z"/>
<path class="ar" d="M2079.4 807.2L2094.7 804.35L2094.7 810.05Z"/>
<text class="c" x="2106.2" y="815.8" font-size="25">4</text>
<path class="d" d="M2212.7 601.8V977"/>
<path class="d" d="M2072.6 836.3H2105.4"/>
<path class="d" d="M2179.8 836.3H2212.7"/>
<path class="ar" d="M2072.6 836.3L2087.9 833.45L2087.9 839.15Z"/>
<path class="ar" d="M2212.7 836.3L2197.4 839.15L2197.4 833.45Z"/>
<text class="c" x="2125.2" y="847.5" font-size="25" textLength="27.6" lengthAdjust="spacingAndGlyphs">80</text>
<text class="cm" x="2147" y="866.7" font-size="18.6" textLength="37.4" lengthAdjust="spacingAndGlyphs">-0.3</text>
<path class="d" d="M1496.8 720V977"/>
<path class="d" d="M1496.8 970H1780.5"/>
<path class="d" d="M1932.9 970H2212.7"/>
<path class="ar" d="M1496.8 970L1512.1 967.15L1512.1 972.85Z"/>
<path class="ar" d="M2212.7 970L2197.4 972.85L2197.4 967.15Z"/>
<text class="c" x="1812.8" y="979.2" font-size="25" textLength="46" lengthAdjust="spacingAndGlyphs">490</text>
</g>
<g id="logos">
<path d="M2096 180.7V131A8.65 8.65 0 0 1 2113.3 131V180.7" style="stroke:#231f20;stroke-width:6.4"/>
<path d="M2085.2 171.8L2111.5 163.6" style="stroke:#231f20;stroke-width:6"/>
<text class="a" x="2124.6" y="152.5" font-size="43.7" textLength="207.6" lengthAdjust="spacingAndGlyphs" style="fill:#231f20;stroke:#231f20;stroke-width:1.7">STRAPROM</text>
<text class="ab" x="2338.6" y="152.5" font-size="16.4" textLength="51.6" lengthAdjust="spacing" style="fill:#231f20">d.o.o.</text>
<rect x="2124.3" y="159.6" width="265.8" height="22.8" style="fill:#ed1c24;stroke:none"/>
<text class="ab" x="2187.6" y="178" font-size="21.6" font-style="italic" textLength="110" lengthAdjust="spacingAndGlyphs" style="fill:#fff">since 1994</text>
<path style="fill:#231f20;stroke:none" d="M2187.3 208.2L2220.8 204.4L2256.3 226.9L2241 232.2Z"/>
<path style="fill:#231f20;stroke:none" d="M2230.4 203.4L2259.2 200.5L2283.1 220.7L2263.9 225.5Z"/>
<path style="fill:#231f20;stroke:none" d="M2268.7 199.6L2292.7 197.2L2310.9 214L2300.4 218.7Z"/>
<path style="fill:#231f20;stroke:none" d="M2253 260.4L2268.4 255.6L2250 276L2239.6 289.3L2221.7 294.3L2236 277Z"/>
<path style="fill:#231f20;stroke:none" d="M2279 252.6L2295.4 249L2280 268L2270.2 281.5L2251.4 287.1L2264 270Z"/>
<path style="fill:#231f20;stroke:none" d="M2306 244.8L2324 241.4L2309 260L2299 273.8L2279.2 279.4L2291 263Z"/>
<path d="M2187.3 208.6L2292.7 196.8" style="stroke:#231f20;stroke-width:1.4;fill:none"/>
<path d="M2291.5 199.4C2302 198.4 2310 200 2316 204.5C2325 211 2332.2 220 2332.5 230.2C2332.8 240 2329 250 2321 257.5C2317 261 2313 263.4 2309 264.6" style="stroke:#231f20;stroke-width:9.4;fill:none"/>
<text class="ab" x="2232.3" y="254.4" font-size="32.4" font-style="italic" textLength="90.3" lengthAdjust="spacingAndGlyphs" transform="rotate(-12.4 2232.3 254.4)" style="fill:#231f20;stroke:#231f20;stroke-width:1.3">prom</text>
<ellipse cx="2182" cy="255.9" rx="49.4" ry="46.3" style="fill:#fff;stroke:none"/>
<path d="M2225.56 265.63A44.8 41.7 0 1 1 2220.4 234.42" style="fill:none;stroke:#ed1c24;stroke-width:9.2"/>
<text class="ab" x="2146" y="266.7" font-size="49.6" textLength="22" lengthAdjust="spacingAndGlyphs" style="fill:#ed1c24">A</text>
<text class="ab" x="2168.4" y="266.7" font-size="28" textLength="30.6" lengthAdjust="spacingAndGlyphs" style="fill:#ed1c24">STR</text>
<text class="ab" x="2199.6" y="276.2" font-size="49.6" textLength="21.6" lengthAdjust="spacingAndGlyphs" style="fill:#ed1c24">A</text>
</g>
</svg>
</body></html>
